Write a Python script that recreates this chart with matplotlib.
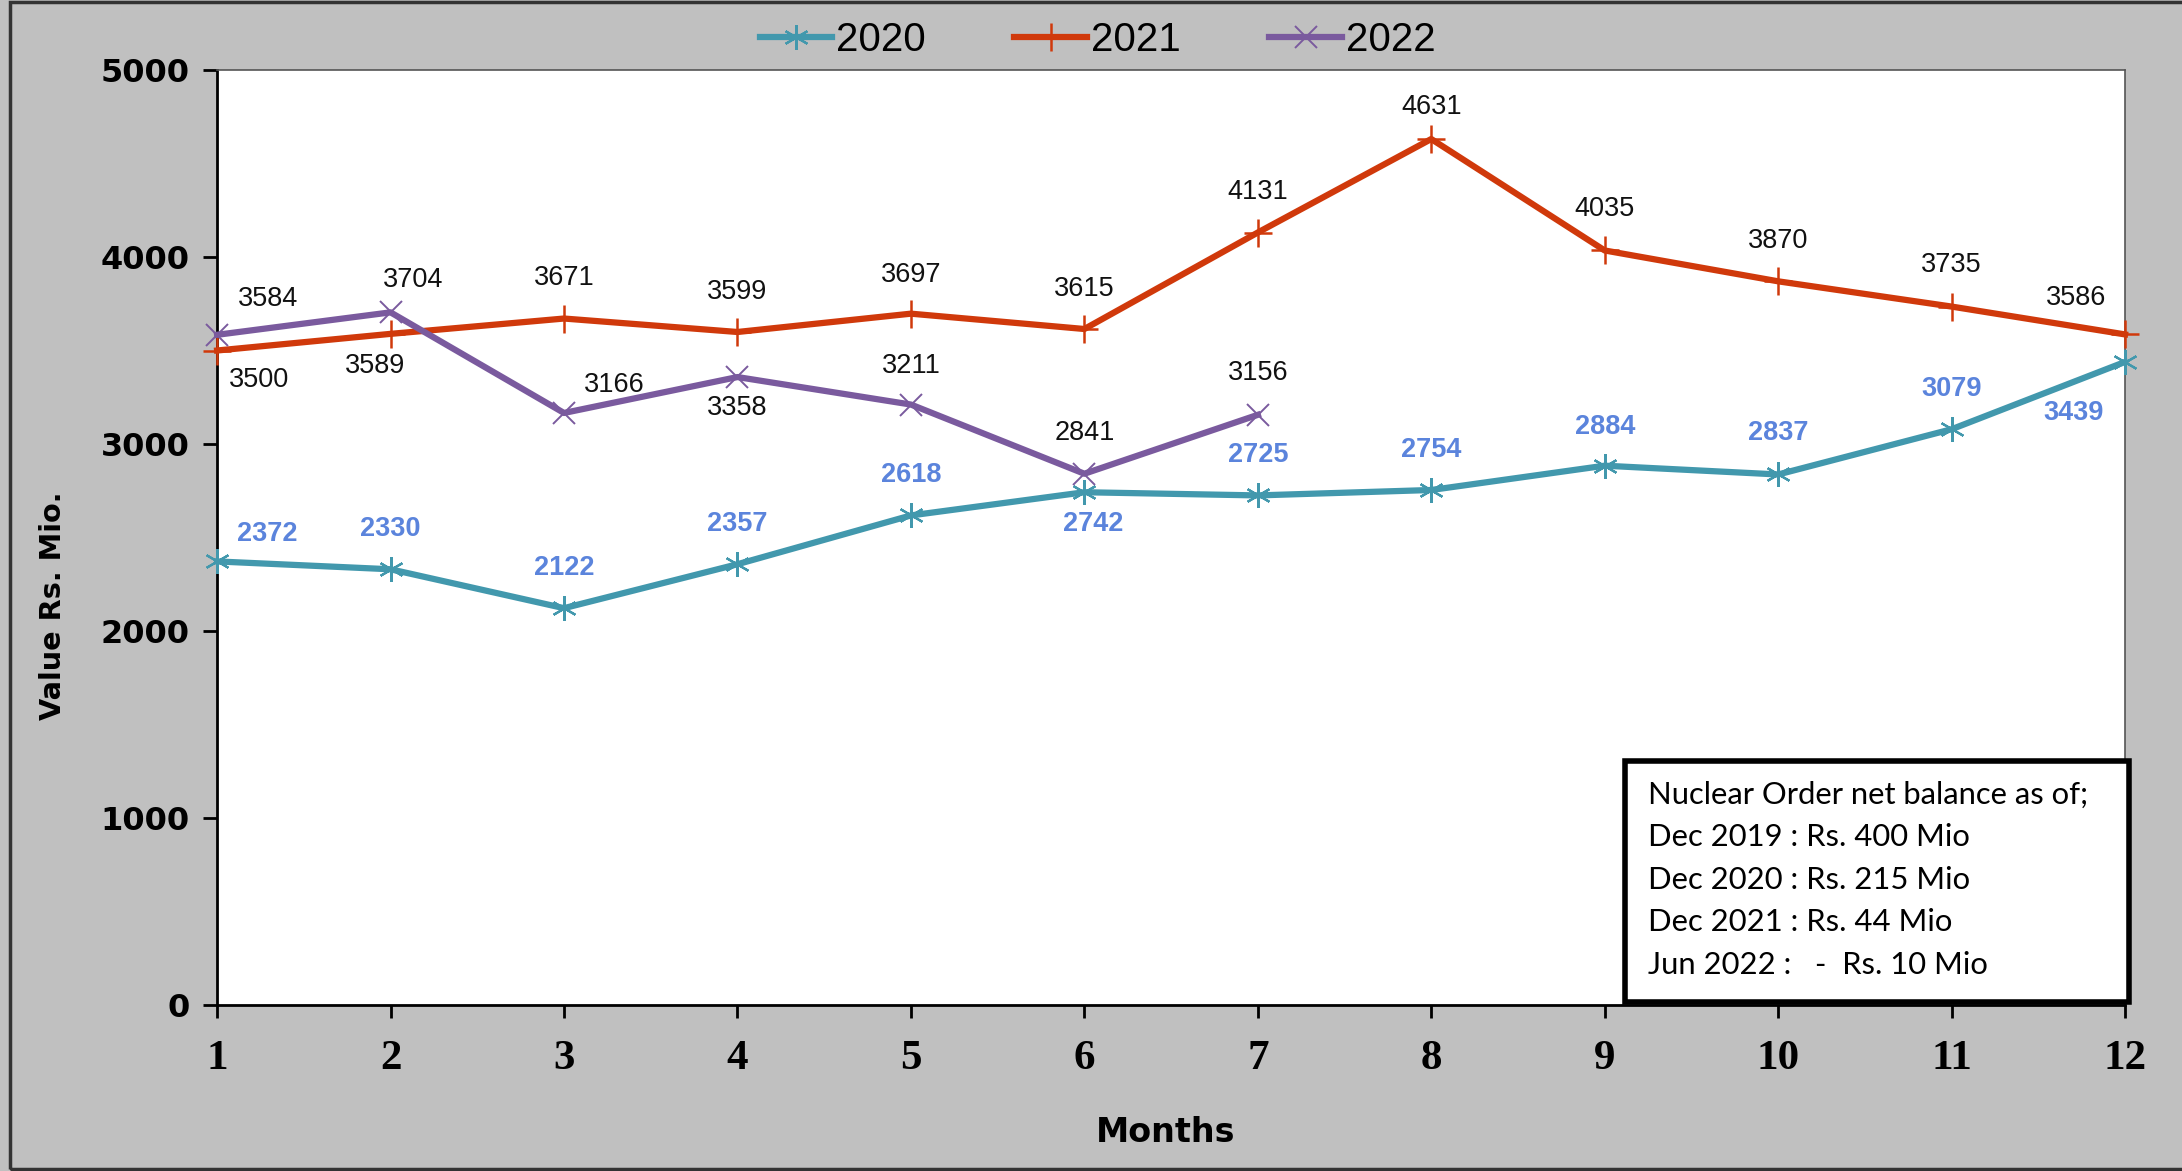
import matplotlib
matplotlib.use("Agg")
import matplotlib.pyplot as plt
from matplotlib.patches import Rectangle
from matplotlib.lines import Line2D

months = [1, 2, 3, 4, 5, 6, 7, 8, 9, 10, 11, 12]
v2020 = [2372, 2330, 2122, 2357, 2618, 2742, 2725, 2754, 2884, 2837, 3079, 3439]
v2021 = [3500, 3589, 3671, 3599, 3697, 3615, 4131, 4631, 4035, 3870, 3735, 3586]
v2022 = [3584, 3704, 3166, 3358, 3211, 2841, 3156]
months2022 = months[:len(v2022)]
yticks = [0, 1000, 2000, 3000, 4000, 5000]
box_lines = ["Nuclear Order net balance as of;",
             "Dec 2019 : Rs. 400 Mio",
             "Dec 2020 : Rs. 215 Mio",
             "Dec 2021 : Rs. 44 Mio",
             "Jun 2022 :   -  Rs. 10 Mio"]

# label offsets (points)
off2021 = [(30, -21), (-11, -23), (0, 29), (0, 29), (0, 28), (0, 29), (0, 29), (0, 23), (0, 30), (0, 29), (0, 30), (-35, 26)]
off2022 = [(37, 26), (16, 23), (36, 20), (0, -22), (0, 28), (0, 29), (0, 30)]
off2020 = [(36, 20), (0, 29), (0, 29), (0, 29), (0, 29), (6, -23), (0, 29), (0, 29), (0, 28), (0, 30), (0, 29), (-37, -37)]

c2020 = "#4298ad"
c2021 = "#d0390b"
c2022 = "#7a5a9e"
clab2020 = "#5b84dc"

fig = plt.figure(figsize=(21.82, 11.71), dpi=100, facecolor="#c0c0c0")
ax = fig.add_axes([0.0995, 0.1418, 0.8744, 0.7984])
ax.set_facecolor("white")

ast = (6, 2, 0)
l20, = ax.plot(months, v2020, color=c2020, lw=4.5, marker=ast, ms=18, mew=1.6, clip_on=False, zorder=3)
l21, = ax.plot(months, v2021, color=c2021, lw=4.5, marker="+", ms=20, mew=1.8, clip_on=False, zorder=3)
l22, = ax.plot(months2022, v2022, color=c2022, lw=4.5, marker="x", ms=16, mew=1.4, clip_on=False, zorder=3)

lab_font = dict(family="Liberation Sans", fontsize=19.5)
for x, y, o in zip(months, v2021, off2021):
    ax.annotate(f"{y}", (x, y), xytext=o, textcoords="offset points", ha="center", va="center", color="#111111", **lab_font)
for x, y, o in zip(months2022, v2022, off2022):
    ax.annotate(f"{y}", (x, y), xytext=o, textcoords="offset points", ha="center", va="center", color="#111111", **lab_font)
for x, y, o in zip(months, v2020, off2020):
    ax.annotate(f"{y}", (x, y), xytext=o, textcoords="offset points", ha="center", va="center", color=clab2020, fontweight="bold", **lab_font)

ax.set_xlim(1, 12)
ax.set_ylim(0, 5000)
ax.set_xticks(months)
ax.set_xticklabels([str(m) for m in months], fontfamily="Liberation Serif", fontweight="bold", fontsize=31)
ax.set_yticks(yticks)
ax.set_yticklabels([str(v) for v in yticks], fontfamily="DejaVu Sans", fontweight="bold", fontsize=23)
ax.tick_params(axis="y", direction="out", length=10, width=2, pad=10)
ax.tick_params(axis="x", direction="out", length=9, width=2, pad=16)
for s in ["left", "bottom"]:
    ax.spines[s].set_linewidth(2)
    ax.spines[s].set_color("black")
for s in ["top", "right"]:
    ax.spines[s].set_linewidth(1.2)
    ax.spines[s].set_color("#555555")

fig.text(0.534, 0.033, "Months", ha="center", va="center", fontfamily="DejaVu Sans", fontweight="bold", fontsize=24)
fig.text(0.0243, 0.483, "Value Rs. Mio.", ha="center", va="center", rotation=90, fontfamily="DejaVu Sans", fontweight="bold", fontsize=20.7)

handles = [Line2D([], [], color=c2020, lw=4.5, marker=ast, ms=18, mew=1.6),
           Line2D([], [], color=c2021, lw=4.5, marker="+", ms=20, mew=1.8),
           Line2D([], [], color=c2022, lw=4.5, marker="x", ms=16, mew=1.4)]
fig.legend(handles, ["2020", "2021", "2022"], loc="center", bbox_to_anchor=(0.503, 0.966), ncol=3,
           frameon=False, prop=dict(family="Liberation Sans", size=29), handlelength=1.8,
           handletextpad=0.1, columnspacing=2.2)

# annotation box
x0, y0 = 1625 / 2182, 1 - 1002 / 1171
w, h = (2129 - 1625) / 2182, (1002 - 761) / 1171
fig.patches.append(Rectangle((x0, y0), w, h, transform=fig.transFigure, facecolor="white",
                             edgecolor="black", lw=4, zorder=5))
for i, t in enumerate(box_lines):
    fig.text(1648 / 2182, 1 - (795 + i * 42.4) / 1171, t, ha="left", va="center",
             fontfamily="Lato", fontsize=22.3, color="black", zorder=6)

# figure border
fig.patches.append(Rectangle((0.0045, 0.0015), 1.2, 0.9965, transform=fig.transFigure,
                             facecolor="none", edgecolor="#333333", lw=2.5, zorder=0))

fig.savefig("out.png", dpi=100, facecolor=fig.get_facecolor())
